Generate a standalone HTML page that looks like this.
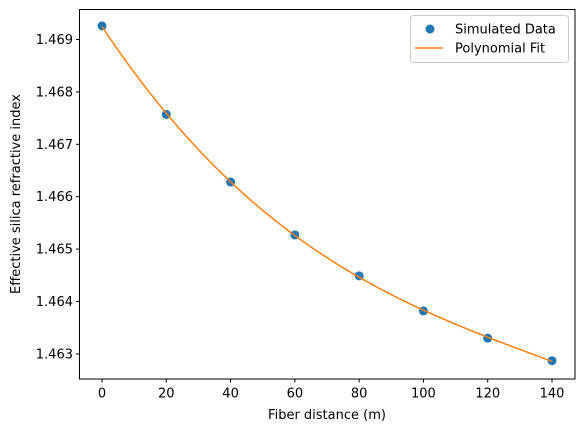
<!DOCTYPE html>
<html><head><meta charset="utf-8"><style>
body{margin:0;background:#fff}
text{font-family:"DejaVu Sans","Liberation Sans",sans-serif;font-size:13px;fill:#000}
</style></head><body>
<svg id="chart" width="585" height="432" xmlns="http://www.w3.org/2000/svg">
<rect width="585" height="432" fill="#fff"/>
<g id="plot"></g>
<rect x="79.5" y="9.5" width="495.5" height="369.5" fill="none" stroke="#000" stroke-width="1"/>
<g id="xt"></g>
<g id="yt"></g>
<text x="327" y="419" text-anchor="middle">Fiber distance (m)</text>
<text transform="translate(20,194) rotate(-90)" text-anchor="middle">Effective silica refractive index</text>
<g>
<rect x="410.5" y="15.5" width="158" height="47" rx="3" fill="#fff" stroke="#ccc"/>
<circle cx="430" cy="29" r="4.5" fill="#1f77b4"/>
<text x="455" y="33.5">Simulated Data</text>
<line x1="415" y1="48" x2="443" y2="48" stroke="#ff7f0e" stroke-width="1.5"/>
<text x="455" y="52.5">Polynomial Fit</text>
</g>
</svg>
<script>
const xs=[0,20,40,60,80,100,120,140];
const ys=[1.46926,1.46757,1.46628,1.46527,1.46449,1.46382,1.46330,1.46287];
const xTicks=[0,20,40,60,80,100,120,140];
const yTicks=[1.463,1.464,1.465,1.466,1.467,1.468,1.469];
const NS="http://www.w3.org/2000/svg";
function X(v){return 102+v*(450/140);}
function Y(v){return 39.5+(1.469-v)*52400;}
function mk(t,a,p){const e=document.createElementNS(NS,t);for(const k in a)e.setAttribute(k,a[k]);p.appendChild(e);return e;}
const xt=document.getElementById('xt'),yt=document.getElementById('yt'),plot=document.getElementById('plot');
xTicks.forEach(v=>{const x=X(v);
const l=mk('line',{x1:x,x2:x,y1:379,y2:382.5,stroke:'#000'},xt);


const t=mk('text',{x:x,y:397.5,'text-anchor':'middle'},xt);t.textContent=v;

});
yTicks.forEach(v=>{const y=Y(v);
const l=mk('line',{x1:76,x2:79.5,y1:y,y2:y,stroke:'#000'},yt);


const t=mk('text',{x:73,y:y+4.5,'text-anchor':'end'},yt);t.textContent=v.toFixed(3);

});
const deg=3,n=deg+1,A=[],b=[];
for(let i=0;i<n;i++){A.push(new Array(n).fill(0));b.push(0);}
const s=140,m=ys.reduce((a,c)=>a+c,0)/ys.length;
xs.forEach((x,k)=>{const u=x/s;for(let i=0;i<n;i++){b[i]+=Math.pow(u,i)*(ys[k]-m);for(let j=0;j<n;j++)A[i][j]+=Math.pow(u,i+j);}});
for(let i=0;i<n;i++){let p=i;for(let r=i+1;r<n;r++)if(Math.abs(A[r][i])>Math.abs(A[p][i]))p=r;[A[i],A[p]]=[A[p],A[i]];[b[i],b[p]]=[b[p],b[i]];
for(let r=0;r<n;r++)if(r!==i){const f=A[r][i]/A[i][i];for(let c=i;c<n;c++)A[r][c]-=f*A[i][c];b[r]-=f*b[i];}}
const co=b.map((v,i)=>v/A[i][i]);
const x0=Math.min(...xs),x1=Math.max(...xs);let d='';
for(let k=0;k<=100;k++){const x=x0+(x1-x0)*k/100,u=x/s;let y=m;for(let i=0;i<n;i++)y+=co[i]*Math.pow(u,i);d+=(k?'L':'M')+X(x).toFixed(2)+','+Y(y).toFixed(2);}
xs.forEach((x,i)=>{const c=mk('circle',{cx:X(x),cy:Y(ys[i]),r:4.5,fill:'#1f77b4'},plot);

});
const fl=mk('path',{d:d,fill:'none',stroke:'#ff7f0e','stroke-width':1.5},plot);


</script>
</body></html>
